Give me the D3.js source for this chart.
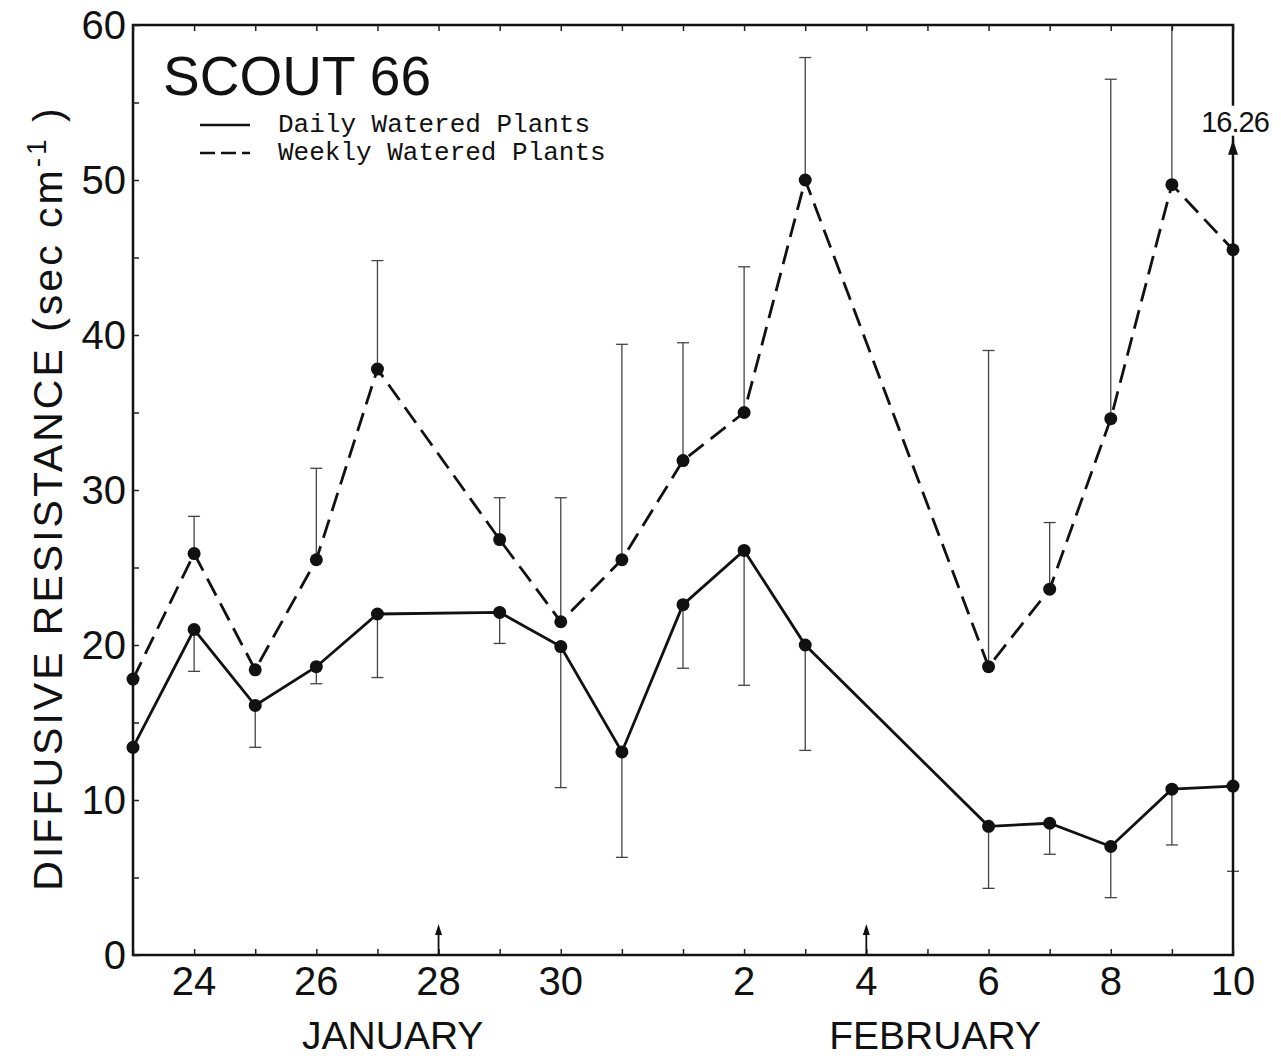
<!DOCTYPE html>
<html>
<head>
<meta charset="utf-8">
<script src="https://cdn.jsdelivr.net/npm/d3@7"></script>
<style>
  body { margin: 0; background: #fff; }
  svg { display: block; font-family: "Liberation Sans", Arial, sans-serif; }
</style>
</head>
<body>
<div id="chart"></div>
<script>
// sampling dates (month-day) and readings, sec cm-1
const dates = ["01-23", "01-24", "01-25", "01-26", "01-27", "01-29", "01-30", "01-31",
  "02-01", "02-02", "02-03", "02-06", "02-07", "02-08", "02-09", "02-10"];
const daily = [13.4, 21.0, 16.1, 18.6, 22.0, 22.1, 19.9, 13.1, 22.6, 26.1, 20.0, 8.3, 8.5, 7.0, 10.7, 10.9];
const dailyLow = [null, 18.3, 13.4, 17.5, 17.9, 20.1, 10.8, 6.3, 18.5, 17.4, 13.2, 4.3, 6.5, 3.7, 7.1, 5.4];
const weekly = [17.8, 25.9, 18.4, 25.5, 37.8, 26.8, 21.5, 25.5, 31.9, 35.0, 50.0, 18.6, 23.6, 34.6, 49.7, 45.5];
const weeklyHigh = [null, 28.3, null, 31.4, 44.8, 29.5, 29.5, 39.4, 39.5, 44.4, 57.9, 39.0, 27.9, 56.5, 60, null];

// off-scale error bar for the last weekly point
const offScale = { date: "02-10", label: "16.26", tip: 52.6 };
const waterDays = ["01-28", "02-04"];

const xTicks = ["01-24", "01-26", "01-28", "01-30", "02-02", "02-04", "02-06", "02-08", "02-10"];
const xTickLabels = ["24", "26", "28", "30", "2", "4", "6", "8", "10"];
const yTicks = [0, 10, 20, 30, 40, 50, 60];
const months = ["JANUARY", "FEBRUARY"];
const monthAt = ["01-27 06", "02-05 03"];

const parse = d3.utcParse("%m-%d");
const parseH = d3.utcParse("%m-%d %H");

const width = 1281, height = 1060;
const margin = { left: 133, right: 48, top: 25, bottom: 105 };

const svg = d3.select("#chart").append("svg")
  .attr("width", width).attr("height", height);

const x = d3.scaleUtc()
  .domain([parse("01-23"), parse("02-10")])
  .range([margin.left, width - margin.right]);
const y = d3.scaleLinear()
  .domain([0, 60])
  .range([height - margin.bottom, margin.top]);

const rows = dates.map((d, i) => ({
  date: parse(d), daily: daily[i], low: dailyLow[i], weekly: weekly[i], high: weeklyHigh[i]
}));

// error bars
const bars = svg.append("g").attr("stroke", "#444").attr("stroke-width", 1.3);
function errBar(date, from, to) {
  const xp = x(date);
  bars.append("line").attr("x1", xp).attr("x2", xp).attr("y1", y(from)).attr("y2", y(to));
  bars.append("line").attr("x1", xp - 6).attr("x2", xp + 6).attr("y1", y(to)).attr("y2", y(to));
}
rows.forEach(r => {
  if (r.low != null) errBar(r.date, r.daily, r.low);
  if (r.high != null) errBar(r.date, r.weekly, r.high);
});

// frame
const frame = svg.append("g").attr("stroke", "#111").attr("stroke-width", 2.5).attr("fill", "none");
frame.append("rect")
  .attr("x", x.range()[0]).attr("y", y(60))
  .attr("width", x.range()[1] - x.range()[0])
  .attr("height", y(0) - y(60));

// bottom axis
svg.append("g")
  .attr("transform", `translate(0,${y(0)})`)
  .call(d3.axisBottom(x).ticks(d3.utcDay.every(1)).tickSize(-6).tickFormat(""))
  .call(g => g.select(".domain").remove())
  .call(g => g.selectAll("line").attr("stroke", "#222").attr("stroke-width", 1.5));

// top axis ticks
svg.append("g")
  .attr("transform", `translate(0,${y(60)})`)
  .call(d3.axisTop(x).ticks(d3.utcDay.every(1)).tickSize(-6).tickFormat(""))
  .call(g => g.select(".domain").remove())
  .call(g => g.selectAll("line").attr("stroke", "#222").attr("stroke-width", 1.5));

// left axis
svg.append("g")
  .attr("transform", `translate(${x.range()[0]},0)`)
  .call(d3.axisLeft(y).tickValues(d3.range(0, 61, 5)).tickSize(-6).tickFormat(""))
  .call(g => g.select(".domain").remove())
  .call(g => g.selectAll("line").attr("stroke", "#222").attr("stroke-width", 1.5));

svg.append("g").selectAll("text")
  .data(yTicks)
  .join("text")
  .attr("x", x.range()[0] - 7)
  .attr("y", d => y(d))
  .attr("dy", "0.36em")
  .attr("text-anchor", "end")
  .attr("font-size", 40)
  .attr("fill", "#111")
  .text(d => d);

svg.append("g").selectAll("text")
  .data(xTicks)
  .join("text")
  .attr("x", d => x(parse(d)))
  .attr("y", y(0) + 40)
  .attr("text-anchor", "middle")
  .attr("font-size", 40)
  .attr("fill", "#111")
  .text((d, i) => xTickLabels[i]);

svg.append("g").selectAll("text")
  .data(months)
  .join("text")
  .attr("x", (d, i) => x(parseH(monthAt[i])))
  .attr("y", y(0) + 94)
  .attr("text-anchor", "middle")
  .attr("font-size", 39)
  .attr("fill", "#111")
  .text(d => d);

// watering arrows
const arrows = svg.append("g").attr("fill", "#111").attr("stroke", "#111");
waterDays.forEach(d => {
  const xp = x(parse(d));
  arrows.append("line").attr("x1", xp).attr("x2", xp)
    .attr("y1", y(0)).attr("y2", y(0) - 22).attr("stroke-width", 1.8);
  arrows.append("path").attr("stroke", "none")
    .attr("d", `M${xp - 3.5},${y(0) - 20} L${xp},${y(0) - 31} L${xp + 3.5},${y(0) - 20} Z`);
});

// y axis title
const yTitle = svg.append("text")
  .attr("transform", `translate(62,${(y(0) + y(60)) / 2 + 8}) rotate(-90)`)
  .attr("text-anchor", "middle")
  .attr("font-size", 41)
  .attr("fill", "#111")
  .attr("letter-spacing", 3);
yTitle.append("tspan").text("DIFFUSIVE RESISTANCE (sec cm");
yTitle.append("tspan").attr("dy", -16).attr("font-size", 28).text("-1");
yTitle.append("tspan").attr("dy", 16).text(" )");

// lines
const lineFor = key => d3.line().x(d => x(d.date)).y(d => y(d[key]));
svg.append("path").datum(rows)
  .attr("fill", "none").attr("stroke", "#111").attr("stroke-width", 2.8)
  .attr("d", lineFor("weekly"))
  .attr("stroke-dasharray", "19,9");
svg.append("path").datum(rows)
  .attr("fill", "none").attr("stroke", "#111").attr("stroke-width", 2.8)
  .attr("d", lineFor("daily"));

svg.append("g").attr("fill", "#111").selectAll("circle")
  .data(rows.flatMap(r => [[r.date, r.daily], [r.date, r.weekly]]))
  .join("circle")
  .attr("cx", d => x(d[0]))
  .attr("cy", d => y(d[1]))
  .attr("r", 6.5);

// off-scale arrow on the right edge
const ox = x(parse(offScale.date));
svg.append("path").attr("fill", "#111")
  .attr("d", `M${ox - 5},${y(offScale.tip) + 15} L${ox},${y(offScale.tip)} L${ox + 5},${y(offScale.tip) + 15} Z`);
svg.append("rect")
  .attr("x", ox - 36).attr("y", y(offScale.tip) - 34)
  .attr("width", 72).attr("height", 30).attr("fill", "#fff");
svg.append("text")
  .attr("x", ox + 2).attr("y", y(offScale.tip) - 8)
  .attr("text-anchor", "middle")
  .attr("font-size", 29)
  .attr("letter-spacing", -1)
  .attr("fill", "#111")
  .text(offScale.label);

// title and legend
svg.append("text")
  .attr("x", 163).attr("y", 95)
  .attr("font-size", 55)
  .attr("fill", "#111")
  .text("SCOUT 66");

const legend = svg.append("g").attr("font-family", "'Liberation Mono', 'DejaVu Sans Mono', monospace")
  .attr("font-size", 26).attr("fill", "#111");
const legendItems = ["Daily Watered Plants", "Weekly Watered Plants"];
const legendDash = [null, "15,6"];
legendItems.forEach((t, i) => {
  const ly = 125 + i * 28;
  legend.append("line")
    .attr("x1", 200).attr("x2", 250).attr("y1", ly).attr("y2", ly)
    .attr("stroke", "#111").attr("stroke-width", 2.5)
    .attr("stroke-dasharray", legendDash[i]);
  legend.append("text").attr("x", 278).attr("y", ly + 7).text(t);
});
</script>
</body>
</html>
